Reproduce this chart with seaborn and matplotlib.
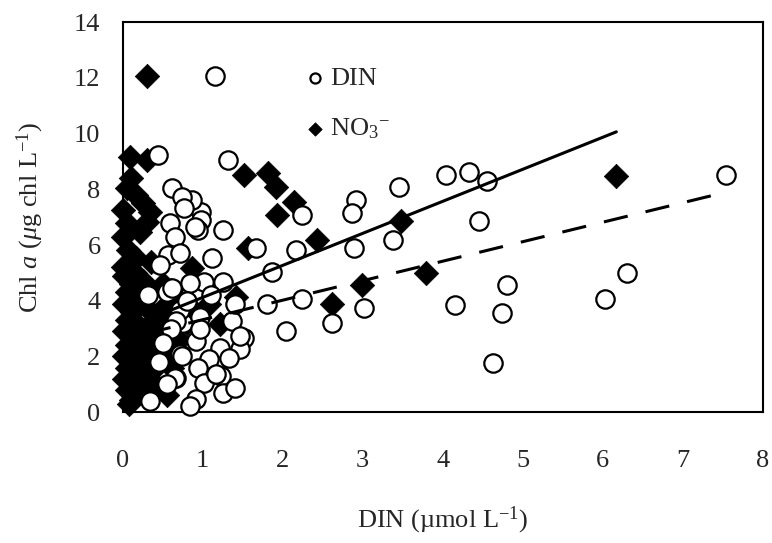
import matplotlib
matplotlib.use("Agg")
import matplotlib.pyplot as plt
import numpy as np
import pandas as pd
import seaborn as sns

# DIN (circles): x = DIN, y = Chl a
din_x = [1.15, 7.54, 4.04, 4.33, 4.55, 4.45, 4.80, 4.15, 4.74, 4.63, 6.30, 6.03,
         3.45, 3.38, 2.24, 2.92, 2.86, 2.17, 2.89, 1.86, 1.80, 2.24, 2.61, 3.02, 2.04,
         1.31, 0.98, 0.98, 0.94, 1.25, 0.87, 1.67, 1.12,
         0.44, 0.61, 0.74, 0.77, 0.59, 0.65, 0.56, 0.71, 0.46, 0.90,
         1.02, 1.25, 0.84, 1.37, 0.92, 1.21, 1.52, 1.46, 1.08, 1.33, 0.94, 1.23, 1.02,
         1.25, 1.40, 0.92, 0.84, 0.34, 0.67, 1.17, 0.71, 0.75, 0.71, 0.96, 1.46, 0.96,
         1.40, 0.67, 0.74, 0.65, 0.31, 0.55, 0.60, 0.50, 0.45, 0.55, 0.80, 1.10, 0.62]
din_chl = [12.06, 8.52, 8.52, 8.63, 8.30, 6.86, 4.55, 3.86, 3.57, 1.77, 4.98, 4.08,
           8.09, 6.17, 7.08, 7.62, 7.15, 5.81, 5.88, 5.02, 3.90, 4.08, 3.21, 3.75, 2.92,
           9.06, 7.18, 6.90, 6.53, 6.53, 7.62, 5.88, 5.52,
           9.24, 8.05, 7.73, 7.33, 6.79, 6.28, 5.63, 5.70, 5.27, 6.64,
           4.66, 4.66, 4.62, 3.28, 2.56, 2.31, 2.67, 2.27, 1.91, 1.95, 1.59, 1.30, 1.05,
           0.69, 0.87, 0.47, 0.22, 0.40, 1.23, 1.37, 2.09, 3.21, 3.65, 3.40, 2.74, 3.00,
           3.90, 3.28, 2.02, 1.23, 4.19, 4.30, 3.00, 2.50, 1.80, 1.00, 4.00, 4.20, 4.45]

# NO3- (diamonds)
no3_x = [0.30, 0.09, 0.30, 0.05, 0.17, 0.25, 0.00, 0.34, 0.05, 0.30, 0.21, 0.00, 0.06,
         0.17, 0.00, 1.52, 1.81, 1.92, 1.93, 2.14, 2.43, 1.56, 0.87, 3.48, 6.17, 3.79,
         2.99, 2.61, 1.42, 1.21, 1.08,
         0.02, 0.10, 0.25, 0.05, 0.18, 0.35, 0.02, 0.12, 0.28, 0.42, 0.05, 0.20, 0.35,
         0.02, 0.12, 0.28, 0.45, 0.05, 0.18, 0.38, 0.02, 0.12, 0.28, 0.05, 0.22, 0.40,
         0.02, 0.13, 0.30, 0.05, 0.20, 0.10, 0.08, 0.55, 0.60, 0.50, 0.58, 0.72, 0.90, 0.62,
         0.50, 0.65, 0.80, 0.45, 0.55, 0.70, 0.40, 0.55, 0.30, 0.15, 0.35, 0.10]
no3_chl = [12.06, 9.17, 9.06, 8.05, 7.80, 7.51, 7.26, 7.18, 6.79, 6.82, 6.46, 6.28, 5.81,
           5.52, 5.20, 8.52, 8.59, 8.09, 7.08, 7.55, 6.17, 5.88, 5.16, 6.85, 8.48, 4.98,
           4.55, 3.90, 4.12, 3.17, 3.90,
           4.90, 4.60, 4.70, 4.30, 4.10, 4.40, 3.90, 3.60, 3.80, 3.50, 3.30, 3.10, 3.20,
           2.90, 2.70, 2.60, 2.90, 2.40, 2.20, 2.30, 2.00, 1.80, 1.90, 1.60, 1.45, 1.60,
           1.20, 1.05, 1.10, 0.80, 0.70, 0.45, 0.30, 3.90, 4.40, 2.00, 3.00, 4.00, 3.60, 1.60,
           4.60, 3.60, 3.20, 3.30, 2.50, 2.60, 1.00, 0.60, 0.50, 5.00, 5.40, 8.40]

# fitted lines: intercept, slope, x range
solid_fit = (2.97, 1.15, 0.0, 6.17)
dashed_fit = (2.62, 0.70, 0.3, 7.54)

x_ticks = [0, 1, 2, 3, 4, 5, 6, 7, 8]
y_ticks = [0, 2, 4, 6, 8, 10, 12, 14]

sns.set_style("white")
plt.rcParams['font.family'] = ['Liberation Serif', 'DejaVu Serif']
plt.rcParams['mathtext.fontset'] = 'custom'
plt.rcParams['mathtext.rm'] = 'Liberation Serif'
plt.rcParams['mathtext.it'] = 'Liberation Serif:italic'

din = pd.DataFrame({'DIN': din_x, 'Chl': din_chl})
no3 = pd.DataFrame({'DIN': no3_x, 'Chl': no3_chl})

fig = plt.figure(figsize=(7.72, 5.43), dpi=100)
ax = fig.add_axes([0.159, 0.241, 0.829, 0.718])

sns.scatterplot(data=no3, x='DIN', y='Chl', marker='D', s=155, color='black',
                edgecolor='black', linewidth=0.5, ax=ax, label=r'NO$_3$$^{-}$',
                zorder=2, clip_on=False)
sns.scatterplot(data=din, x='DIN', y='Chl', marker='o', s=175, facecolor='white',
                edgecolor='black', linewidth=1.6, ax=ax, label='DIN', zorder=3,
                clip_on=False)

for b0, b1, x0, x1 in [solid_fit]:
    xs = np.array([x0, x1])
    ax.plot(xs, b0 + b1 * xs, color='black', lw=2.2, zorder=4)
for b0, b1, x0, x1 in [dashed_fit]:
    xs = np.array([x0, x1])
    ax.plot(xs, b0 + b1 * xs, color='black', lw=2.2, dashes=(8, 6), zorder=4)

ax.set_xlim(0, 8)
ax.set_ylim(0, 14)
ax.set_xticks(x_ticks)
ax.set_yticks(y_ticks)
ax.tick_params(axis='both', direction='out', length=7, width=1.5, labelsize=19)
ax.tick_params(axis='x', pad=20)
ax.tick_params(axis='y', pad=9)
for sp in ax.spines.values():
    sp.set_linewidth(1.5)
    sp.set_color('black')

ax.set_xlabel(r'DIN (µmol L$^{-1}$)', fontsize=19, labelpad=24)
ax.set_ylabel(r'Chl $a$ ($\mu$g chl L$^{-1}$)', fontsize=19, labelpad=20)

handles, labels = ax.get_legend_handles_labels()
ax.legend(handles[::-1], labels[::-1], loc='upper left', bbox_to_anchor=(0.27, 0.92),
          frameon=False, fontsize=19, markerscale=0.55, handlelength=0.5,
          handletextpad=0.3, labelspacing=1.0, borderpad=0)

fig.savefig('out.png', dpi=100)
